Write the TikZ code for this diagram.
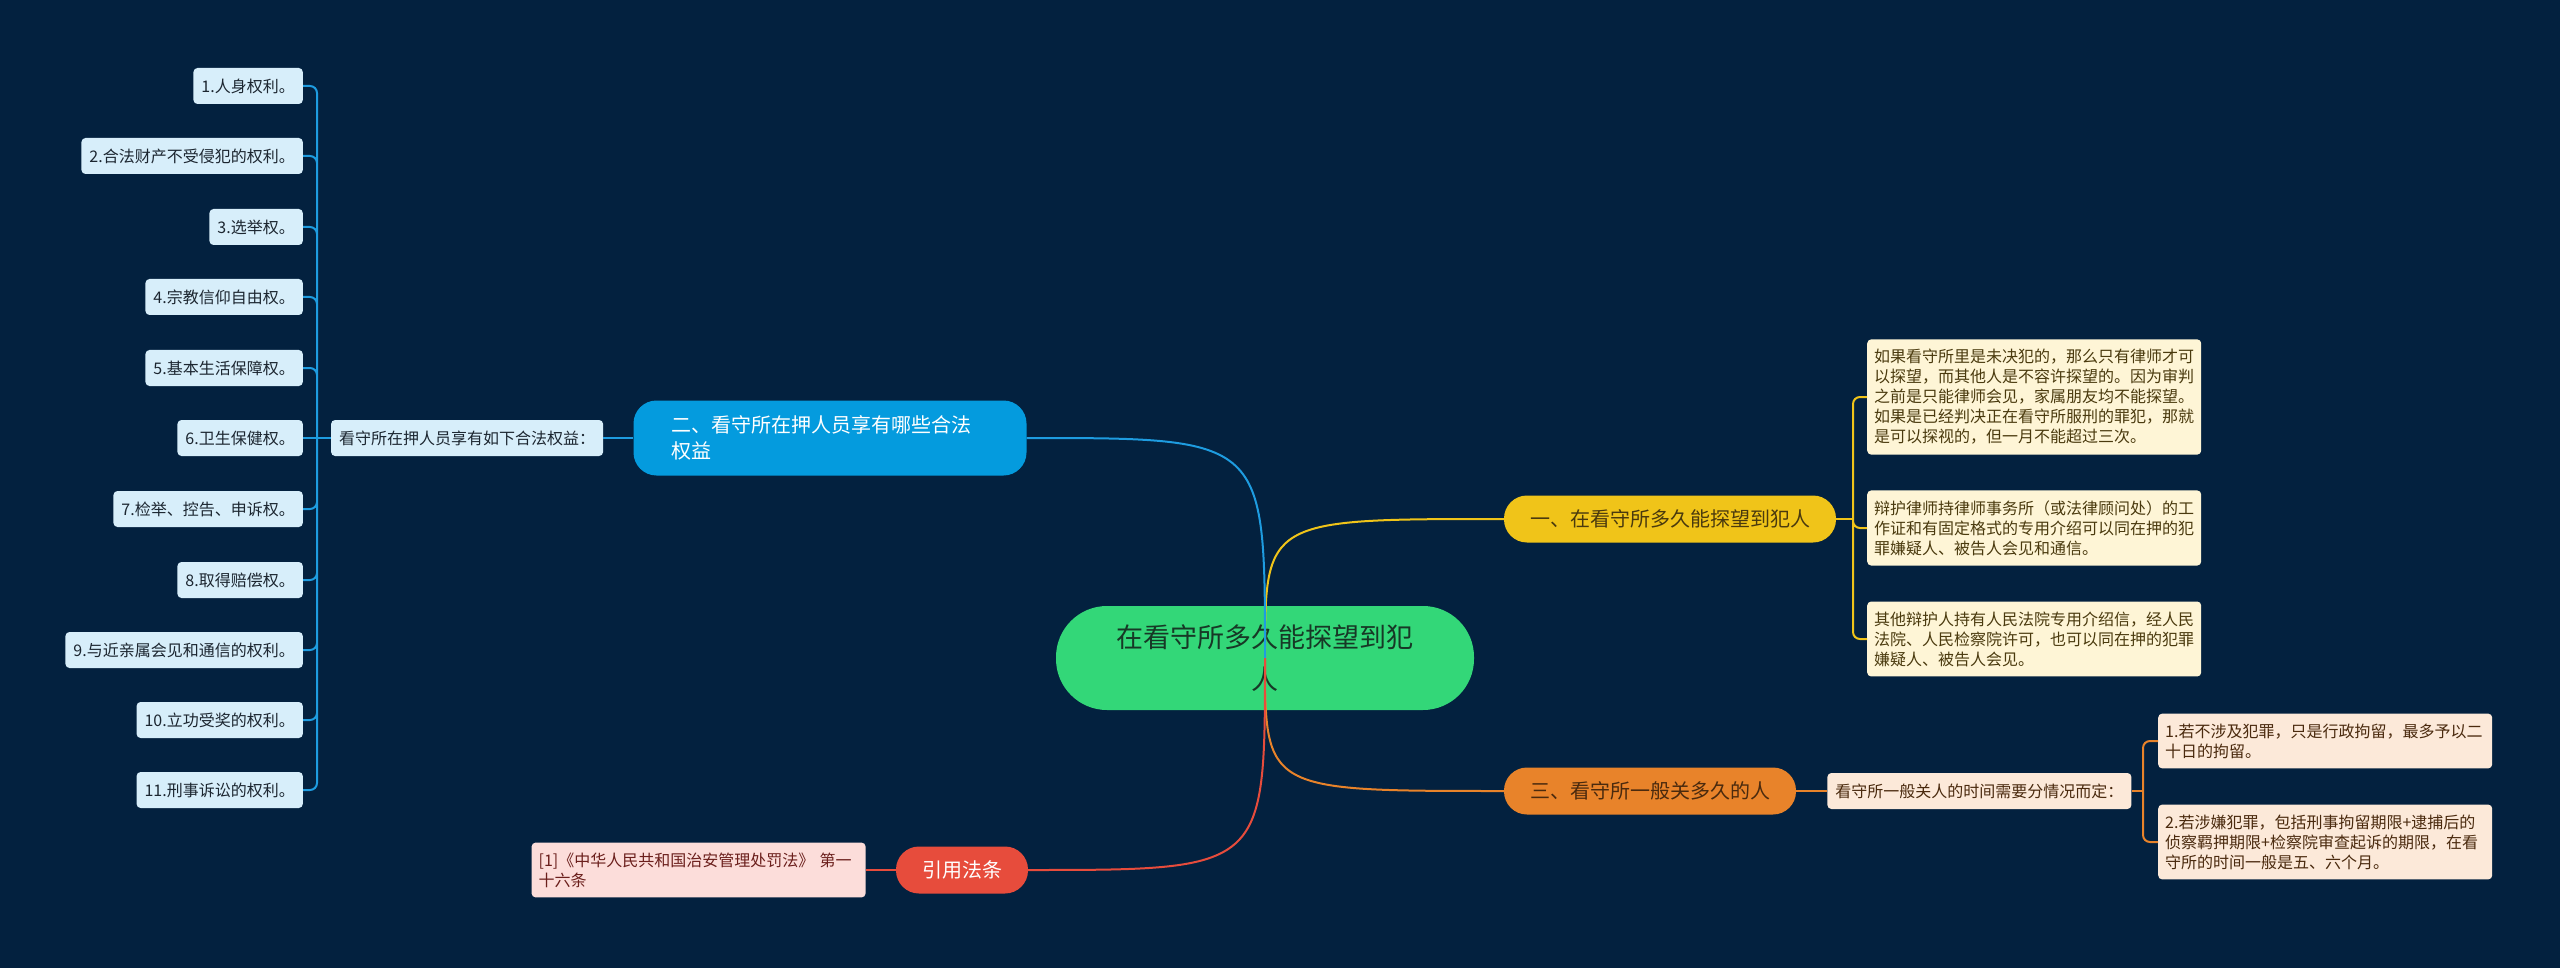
\documentclass[tikz,border=0pt]{standalone}
\usepackage{fontspec}
\setmainfont{Noto Sans CJK SC}
\usetikzlibrary{positioning}

\definecolor{bgnavy}{HTML}{03213F}
\definecolor{rootgreen}{HTML}{33D778}
\definecolor{rootink}{HTML}{173826}
\definecolor{blueline}{HTML}{1E9CE0}
\definecolor{bluetopic}{HTML}{049BDE}
\definecolor{blueleaf}{HTML}{D7EEFA}
\definecolor{blueink}{HTML}{1C2630}
\definecolor{yellowline}{HTML}{F0C419}
\definecolor{yellowleaf}{HTML}{FEF5D6}
\definecolor{yellowink}{HTML}{4A3A0E}
\definecolor{orangeline}{HTML}{E8832A}
\definecolor{orangeleaf}{HTML}{FCE9D9}
\definecolor{orangeink}{HTML}{4A2A0E}
\definecolor{redline}{HTML}{E74C3C}
\definecolor{redleaf}{HTML}{FCDDDA}
\definecolor{redink}{HTML}{6B1F1C}

\tikzset{
  root/.style={fill=rootgreen, text=rootink, rounded corners=51pt,
    minimum width=418pt, minimum height=104pt, align=center,
    font=\fontsize{27}{42}\selectfont},
  topic/.style={rounded corners=23pt, minimum height=47pt, inner xsep=26pt,
    font=\fontsize{20}{26}\selectfont},
  leaf/.style={rounded corners=4pt, minimum height=36pt, inner xsep=8pt,
    inner ysep=10pt, font=\fontsize{16}{20}\selectfont},
  para/.style={leaf, text width=320pt, inner xsep=7pt, align=left},
  link/.style={line width=2pt},
}

\begin{document}
\begin{tikzpicture}[x=1pt, y=-1pt]
    \useasboundingbox (0, 0) rectangle (2560, 968);
    \fill[bgnavy] (0, 0) rectangle (2560, 968);

    \node[root](root) at (1265, 658) {在看守所多久能探望到犯\\人};

    % first branch
    \node[topic, fill=yellowline, text=yellowink](one) at (1670, 519)
    {一、在看守所多久能探望到犯人};
    \node[para, fill=yellowleaf, text=yellowink, anchor=west](y1) at (1867, 397)
    {如果看守所里是未决犯的，那么只有律师才可\\以探望，而其他人是不容许探望的。因为审判\\之前是只能律师会见，家属朋友均不能探望。\\如果是已经判决正在看守所服刑的罪犯，那就\\是可以探视的，但一月不能超过三次。};
    \node[para, fill=yellowleaf, text=yellowink, anchor=west](y2) at (1867, 528)
    {辩护律师持律师事务所（或法律顾问处）的工\\作证和有固定格式的专用介绍可以同在押的犯\\罪嫌疑人、被告人会见和通信。};
    \node[para, fill=yellowleaf, text=yellowink, anchor=west](y3) at (1867, 639)
    {其他辩护人持有人民法院专用介绍信，经人民\\法院、人民检察院许可，也可以同在押的犯罪\\嫌疑人、被告人会见。};
    \coordinate(ytrunk) at (1853, 519);

    % second branch
    \node[topic, fill=bluetopic, text=white, minimum height=75pt,
    inner xsep=38pt, text width=317pt, align=left](two) at (830, 438)
    {二、看守所在押人员享有哪些合法\\权益};
    \node[leaf, fill=blueleaf, text=blueink, left=30pt of two](lmid)
    {看守所在押人员享有如下合法权益：};
    \coordinate(ltrunk) at (317, 438);
    \node[leaf, fill=blueleaf, text=blueink, anchor=east](r1) at (303, 86) {1.人身权利。};
    \node[leaf, fill=blueleaf, text=blueink, anchor=east](r2) at (303, 156) {2.合法财产不受侵犯的权利。};
    \node[leaf, fill=blueleaf, text=blueink, anchor=east](r3) at (303, 227) {3.选举权。};
    \node[leaf, fill=blueleaf, text=blueink, anchor=east](r4) at (303, 297) {4.宗教信仰自由权。};
    \node[leaf, fill=blueleaf, text=blueink, anchor=east](r5) at (303, 368) {5.基本生活保障权。};
    \node[leaf, fill=blueleaf, text=blueink, anchor=east](r6) at (303, 438) {6.卫生保健权。};
    \node[leaf, fill=blueleaf, text=blueink, anchor=east](r7) at (303, 509) {7.检举、控告、申诉权。};
    \node[leaf, fill=blueleaf, text=blueink, anchor=east](r8) at (303, 580) {8.取得赔偿权。};
    \node[leaf, fill=blueleaf, text=blueink, anchor=east](r9) at (303, 650) {9.与近亲属会见和通信的权利。};
    \node[leaf, fill=blueleaf, text=blueink, anchor=east](r10) at (303, 720) {10.立功受奖的权利。};
    \node[leaf, fill=blueleaf, text=blueink, anchor=east](r11) at (303, 790) {11.刑事诉讼的权利。};

    % third branch
    \node[topic, fill=orangeline, text=orangeink](three) at (1650, 791)
    {三、看守所一般关多久的人};
    \node[leaf, fill=orangeleaf, text=orangeink, right=31pt of three](tmid)
    {看守所一般关人的时间需要分情况而定：};
    \coordinate(otrunk) at (2143, 791);
    \node[para, fill=orangeleaf, text=orangeink, anchor=west](o1) at (2158, 741)
    {1.若不涉及犯罪，只是行政拘留，最多予以二\\十日的拘留。};
    \node[para, fill=orangeleaf, text=orangeink, anchor=west](o2) at (2158, 842)
    {2.若涉嫌犯罪，包括刑事拘留期限+逮捕后的\\侦察羁押期限+检察院审查起诉的期限，在看\\守所的时间一般是五、六个月。};

    % law reference
    \node[topic, fill=redline, text=white](law) at (962, 870) {引用法条};
    \node[para, fill=redleaf, text=redink, left=30pt of law](cite)
    {[1]《中华人民共和国治安管理处罚法》 第一\\十六条};

    % connectors
    \draw[link, yellowline] (root.center) .. controls (root.center |- one.west) .. (one.west);
    \draw[link, blueline] (root.center) .. controls (root.center |- two.east) .. (two.east);
    \draw[link, orangeline] (root.center) .. controls (root.center |- three.west) .. (three.west);
    \draw[link, redline] (root.center) .. controls (root.center |- law.east) .. (law.east);

    \draw[link, yellowline] (one.east) -- (ytrunk);
    \draw[link, yellowline, rounded corners=7pt]
    (ytrunk) |- (y1.west)
    (ytrunk) |- (y2.west)
    (ytrunk) |- (y3.west);

    \draw[link, blueline] (two.west) -- (lmid.east)
    (lmid.west) -- (r6.east);
    \draw[link, blueline, rounded corners=7pt]
    (ltrunk) |- (r1.east)
    (ltrunk) |- (r2.east)
    (ltrunk) |- (r3.east)
    (ltrunk) |- (r4.east)
    (ltrunk) |- (r5.east)
    (ltrunk) |- (r7.east)
    (ltrunk) |- (r8.east)
    (ltrunk) |- (r9.east)
    (ltrunk) |- (r10.east)
    (ltrunk) |- (r11.east);

    \draw[link, orangeline] (three.east) -- (tmid.west)
    (tmid.east) -- (otrunk);
    \draw[link, orangeline, rounded corners=7pt]
    (otrunk) |- (o1.west)
    (otrunk) |- (o2.west);

    \draw[link, redline] (law.west) -- (cite.east);
\end{tikzpicture}
\end{document}
